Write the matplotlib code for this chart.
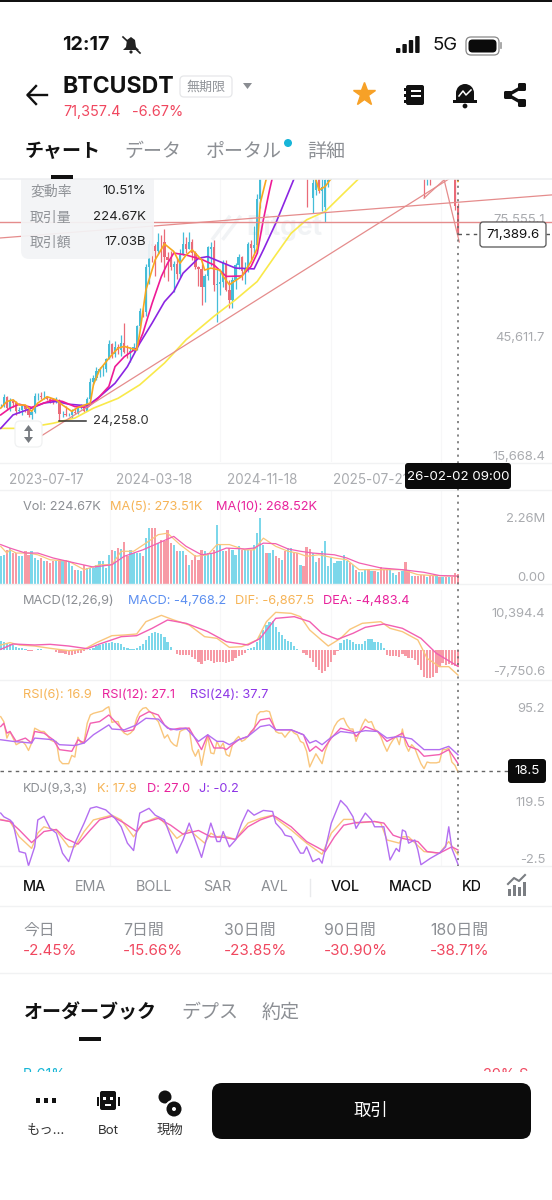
import numpy as np
import matplotlib
matplotlib.use("Agg")
import matplotlib.pyplot as plt
from matplotlib.patches import FancyBboxPatch, Rectangle, Circle, Polygon

plt.rcParams['font.family'] = ['Inter', 'Noto Sans CJK JP', 'DejaVu Sans']

# ---------- price data (thousand USDT, weekly candles) ----------
closes = [28.3,30.3,27.6,29.2,28.9,26.9,27.1,28.1,27.2,25.9,
 26.5,30.5,30.6,30.3,30.3,29.9,29.3,29.0,29.3,26.1,
 26.1,25.8,25.8,26.5,26.3,27.9,27.9,26.8,29.9,34.0,
 35.0,37.0,37.4,37.4,39.9,43.7,41.3,43.0,42.3,43.9,
 41.8,41.6,42.0,43.0,48.3,52.1,51.7,63.1,68.9,68.4,
 67.2,69.6,69.4,65.7,64.9,63.1,64.0,61.5,66.3,69.0,
 67.7,69.6,66.7,63.2,62.7,58.2,60.8,68.2,68.3,58.7,
 58.9,59.3,64.2,57.3,54.8,60.0,63.6,65.6,62.1,62.8,
 69.0,67.9,68.7,80.4,90.6,97.9,97.2,101.1,104.4,95.2,
 94.2,98.4,94.5,101.3,102.6,100.6,96.5,96.5,96.3,94.3,
 86.5,84.3,86.1,82.4,83.5,85.2,85.2,93.7,94.3,103.2,
 104.1,106.5,109.0,105.6,105.7,105.5,108.3,109.2,119.1,117.9,
 119.4,113.3,119.3,117.4,113.5,108.2,111.1,115.3,115.3,112.2,
 123.5,115.0,108.0,114.6,110.5,104.7,94.2,86.6,90.9,90.2,
 88.1,88.6,87.5,91.5,90.5,93.6,86.6,78.6,71.39]
opens = [28.2,28.3,30.3,27.6,29.2,28.9,26.9,27.1,28.1,27.2,
 25.9,26.5,30.5,30.6,30.3,30.3,29.9,29.3,29.0,29.3,
 26.1,26.1,25.8,25.8,26.5,26.3,27.9,27.9,26.8,29.9,
 34.0,35.0,37.0,37.4,37.4,39.9,43.7,41.3,43.0,42.3,
 43.9,41.8,41.6,42.0,43.0,48.3,52.1,51.7,63.1,68.9,
 68.4,67.2,69.6,69.4,65.7,64.9,63.1,64.0,61.5,66.3,
 69.0,67.7,69.6,66.7,63.2,62.7,58.2,60.8,67.6,68.3,
 58.7,58.9,59.3,64.2,57.3,54.8,60.0,63.6,65.6,62.1,
 62.8,69.0,67.9,68.7,80.4,90.6,97.9,97.2,101.1,104.4,
 95.2,94.2,98.4,94.5,101.3,102.6,100.6,96.5,96.5,96.3,
 94.3,80.7,82.6,86.1,82.4,78.4,84.6,85.2,93.7,94.3,
 103.2,104.1,106.5,109.0,105.6,105.7,105.5,108.3,109.2,119.1,
 117.9,119.4,113.3,119.3,117.4,113.5,108.2,111.1,115.3,115.3,
 112.2,123.5,115.0,108.0,114.6,110.5,104.7,94.2,86.6,90.9,
 90.2,88.1,88.6,87.5,91.5,90.5,93.6,86.6,78.6]
highs = [28.6,31.0,30.5,30.0,29.9,29.3,27.7,28.3,28.4,27.4,
 26.8,31.4,31.4,31.5,31.8,30.4,30.3,30.0,30.2,29.7,
 26.8,28.1,26.4,27.4,27.5,28.0,28.6,28.0,30.3,35.0,
 35.9,37.9,38.0,38.4,40.2,44.7,44.0,44.4,43.8,45.9,
 49.0,43.5,42.9,43.9,48.5,52.9,52.9,64.0,70.0,73.8,
 68.9,71.7,71.3,72.8,66.9,67.2,64.7,65.5,67.7,72.0,
 70.7,72.0,70.2,67.2,63.4,63.9,61.4,68.4,69.4,70.0,
 62.7,61.8,65.0,64.9,59.8,60.6,64.1,66.5,66.0,64.5,
 69.4,70.0,73.6,81.5,93.5,99.6,98.9,104.0,105.2,108.3,
 99.9,99.0,102.7,106.0,109.6,106.4,102.5,98.8,99.5,96.5,
 95.0,85.3,87.5,88.8,88.5,86.1,86.5,95.8,97.9,104.0,
 105.8,107.0,110.5,110.5,110.5,108.9,108.5,110.5,123.2,120.0,
 120.5,120.0,119.3,124.5,117.5,113.5,113.4,116.8,117.9,113.3,
 126.2,125.0,116.0,116.0,116.4,111.0,107.5,94.0,93.0,94.2,
 94.6,90.4,90.5,94.8,94.8,97.9,93.6,90.6,79.3]
lows = [27.7,27.8,27.1,26.9,27.7,25.8,26.4,25.9,26.5,25.3,
 24.8,26.3,29.5,29.7,29.9,29.5,28.9,28.6,28.7,24.258,
 25.3,25.4,25.4,24.9,26.0,26.0,27.2,26.5,26.8,29.7,
 33.4,34.5,35.5,35.6,36.7,39.9,40.2,40.5,41.3,40.7,
 41.5,40.3,39.1,41.8,42.3,47.7,50.6,50.9,59.0,64.5,
 60.8,66.4,64.5,60.7,59.6,62.4,56.8,60.2,60.7,66.3,
 66.6,67.6,65.0,62.6,58.4,53.5,54.3,60.0,63.4,57.1,
 49.2,56.1,58.1,57.2,52.8,52.8,57.5,62.7,59.8,58.9,
 62.0,65.0,66.8,66.8,78.0,89.4,90.8,90.5,94.2,92.1,
 92.5,91.5,89.2,89.1,100.1,97.8,91.2,94.0,93.4,78.4,
 86.0,76.7,81.4,81.8,77.3,74.6,83.5,86.0,92.0,94.0,
 100.0,102.0,106.0,100.0,100.4,98.2,105.0,105.0,107.5,115.0,
 114.0,112.0,111.0,113.0,111.5,107.5,107.3,110.5,114.0,108.6,
 109.0,102.0,103.0,106.0,106.3,98.9,93.5,80.5,84.0,84.0,
 87.6,85.6,86.4,86.7,89.3,90.0,86.0,77.5,71.2]

ma5_i = [0,2,4,6,8,10,12,15,18,20,23,25,29,30,32,35,38,40,44,45,47,50,53,56,58,60,62,65,66,68,71,72,74,78,81,83,84,86,95,101,103,105,107,120,130,140,146,147,148]
ma5_v = [27.5,29.2,29.6,28.3,28.3,26.7,28.8,30.4,29.6,28.3,26.7,27.7,28.8,33.4,37.2,40.1,42.7,43.1,42.2,46.4,57.4,65.0,69.0,67.1,64.1,66.2,67.5,65.0,62.4,62.9,62.4,60.8,58.7,60.8,64.5,67.9,79.3,85.6,97,88,82.6,83.5,85.6,105,115,95,90,88,84.8]
ma10_i = [0,3,6,10,14,17,20,24,28,31,35,37,40,44,46,49,52,54,56,60,65,69,73,78,81,83,85,87,88,100,120,140,148]
ma10_v = [25.8,27.5,28.5,27.7,28.8,29.6,29.2,27.9,27.7,29.6,33.0,38.0,40.5,42.7,46.4,54.0,60.8,64.1,66.7,66.2,65.1,63.7,60.8,60.9,63.3,66.6,75.1,82.6,86.0,96,105,100,92]
ma20_i = [0,4,10,14,18,22,28,32,37,41,45,49,53,56,59,64,67,71,76,82,85,89,95,110,130,148]
ma20_v = [22.4,25.8,27.5,28.8,29.2,28.5,28.1,30.4,33.8,38.0,43.9,49.0,54.4,57.0,61.6,65.4,65.8,64.5,62.9,62.7,67.5,74.2,85.6,105,108,98]
ma60_i = [0,5,11,17,24,30,38,45,53,60,69,76,83,89,94,99,105,111,116,130,148]
ma60_v = [22.4,22.4,22.9,23.7,25.0,27.5,30.0,33.4,38.9,44.8,50.7,54.9,59.5,66.2,71.7,75.1,77.2,81.8,85.6,100,98]

level_idx = [-0.3, 178.5]
level_px = [74.5, 74.5]
channel_px = [70.5, 81.4]
trend_idx = [9.5, 146]
trend_px = [18.7, 85.9]
spike_idx = [137, 143.5, 148.4]
spike_px = [80.6, 85.2, 69.5]

price_ticks = [75.5551, 45.6117, 15.6684]
price_tick_labels = ['75,555.1', '45,611.7', '15,668.4']
date_ticks = [14.7, 49.6, 84.6, 119.6]
date_labels = ['2023-07-17', '2024-03-18', '2024-11-18', '2025-07-21']

# ---------- volume (million) ----------
volumes = [.95,.98,1.17,1.23,1.06,1.06,.95,.95,1.12,1.00,
 1.12,.89,.83,.89,.78,.78,.72,.78,.78,.83,
 .78,.83,.78,.60,.49,.49,.43,.66,.55,.55,
 .55,.66,.78,.78,.55,1.00,1.17,1.12,1.23,1.20,
 1.43,.95,1.17,1.06,1.06,1.06,.95,1.57,1.92,1.92,
 1.92,1.40,1.52,1.46,1.84,1.40,1.35,1.12,1.12,1.12,
 1.00,.66,.83,1.00,.83,1.17,1.12,1.06,1.06,1.17,
 2.03,1.35,1.12,1.12,1.23,1.17,1.00,1.29,1.17,1.17,
 1.17,1.17,1.35,1.74,2.26,1.35,1.06,1.06,1.17,
 .95,.89,.83,1.12,1.23,1.23,1.06,1.06,.66,.60,
 1.27,1.20,1.06,.74,.89,1.12,1.46,.63,.89,.72,
 .78,.78,1.00,.78,.72,.64,.49,.41,.41,.49,
 .51,.43,.43,.40,.58,.49,.49,.47,.38,.32,
 .40,.43,.74,.49,.26,.26,.29,.31,.32,.24,
 .29,.26,.30,.24,.24,.24,.24,.24,.38,.33]
vma5_i = [0,2,3,5,9,12,16,22,27,32,36,39,43,47,51,54,58,63,67,70,74,79,82,85,89,93,96,99,103,108,112,116,121,126,130,135,140,148]
vma5_v = [1.29,1.06,1.17,1.06,1.06,1.00,.83,.78,.49,.66,.66,1.12,1.12,1.40,1.69,1.74,1.35,.95,1.00,1.35,1.35,1.17,1.17,1.57,1.29,1.12,1.06,.95,1.00,.89,.83,.49,.49,.49,.49,.32,.29,.27]
vma10_i = [0,3,8,12,17,24,30,36,40,46,51,56,60,65,69,73,79,82,85,89,93,97,101,108,112,116,123,130,137,142,148]
vma10_v = [1.35,1.23,1.06,1.06,.89,.72,.58,.66,.95,1.17,1.40,1.63,1.29,1.00,1.06,1.23,1.20,1.23,1.40,1.38,1.20,1.12,1.06,1.00,.89,.72,.55,.49,.40,.29,.27]

# ---------- MACD ----------
macd_hist = [2460,2280,2010,1640,1370,910,640,460,180,-180,
 -270,90,180,180,90,90,-90,-90,-460,-730,
 -910,-1090,-1280,-1280,-1190,-910,-730,-360,-90,270,
 640,1000,1280,1550,1820,2010,2280,2010,1820,1550,
 910,640,360,180,640,1090,1550,2740,3830,4740,
 4830,4740,4380,3470,2280,910,-90,-1190,-1280,-1280,
 -1370,-1460,-1820,-2550,-3370,-3920,-2920,-2740,-3100,-3470,
 -3370,-3370,-3190,-3470,-3280,-2920,-2280,-1550,-1370,-730,
 180,550,910,2280,4100,5470,6840,7750,8030,
 6380,5020,4100,3010,2550,2280,1090,270,-90,-730,
 -1370,-2280,-3370,-4560,-5470,-6200,-5650,-4560,-3190,-1370,
 -270,1820,2740,2920,2740,2280,1640,1550,1640,2550,
 2920,3010,2280,2280,1820,460,-1370,-1550,-1640,-1550,
 -2010,-1090,-1640,-2280,-2280,-2740,-4100,-5470,-7300,-7750,
 -7750,-7300,-6380,-4560,-3650,-4100,-3920,-4100,-4380,-4768]
dif_i = [0,3,6,11,16,22,27,31,36,40,44,47,52,56,61,66,70,74,78,83,86,89,94,97,100,106,110,113,117,123,126,130,135,138,142,145,148]
dif_v = [1370,2010,1370,1090,460,-180,180,2010,3920,4100,4380,7750,9480,8210,6840,3650,3190,730,910,2740,7750,10300,10030,9120,5470,1090,3190,5650,7300,7750,5930,5020,2740,-2280,-4560,-4560,-6867]
dea_i = [0,4,11,16,22,28,32,39,44,49,54,60,67,73,80,84,89,95,100,104,109,114,118,124,130,136,141,148]
dea_v = [180,1640,1370,1550,1090,360,1640,3650,3920,5930,8210,7300,5020,2280,1370,3190,8660,9120,7750,4560,2920,4560,6200,7110,5930,3190,-910,-4483]

# ---------- RSI ----------
rsi6 = [84,78,58,66,58,50,52,54,50,43,
 52,70,68,66,66,62,56,54,54,31,
 27,27,27,37,35,59,52,54,76,86,
 88,89,90,91,94,96,77,78,78,68,
 64,62,64,68,82,90,94,95,91,88,
 82,78,68,58,62,54,50,48,66,68,
 69,70,44,36,44,25,44,60,40,39,
 54,46,52,38,36,50,56,60,54,56,
 60,66,68,86,90,90,91,90,78,66,
 64,64,59,64,68,64,62,54,52,42,
 23,31,39,33,27,42,52,62,72,78,
 81,82,74,69,69,54,64,74,81,77,
 78,69,66,60,50,42,50,56,60,50,
 69,50,42,50,46,36,27,21,29,28,
 28,28,29,44,44,46,29,25,16.9]
rsi12_i = [0,1,2,3,5,8,10,11,14,17,19,23,25,27,29,32,35,37,40,43,45,48,51,53,55,58,61,65,67,69,72,73,77,80,84,87,89,94,98,100,102,104,107,110,114,115,118,122,125,128,130,132,135,137,142,145,148]
rsi12_v = [72,76,64,66,54,58,52,66,64,56,44,42,56,52,76,78,86,78,66,68,84,90,86,74,68,70,70,44,62,46,46,44,56,60,80,82,68,68,62,42,48,42,58,70,66,60,72,66,54,60,64,48,44,36,38,44,27.1]
rsi24_i = [0,4,10,11,17,19,24,27,30,35,36,40,44,47,51,54,57,60,64,67,70,72,74,77,80,84,87,89,94,98,100,102,104,107,110,114,118,122,125,129,133,137,142,145,148]
rsi24_v = [56,54,52,58,56,50,49,52,62,74,69,68,74,82,81,70,68,70,54,62,54,54,50,56,60,72,74,68,68,62,52,55,50,59,66,64,67,66,58,60,57,44,44,48,37.7]

# ---------- KDJ ----------
k_i = [0,3,6,10,12,14,18,22,24,27,30,36,39,43,46,51,53,57,61,66,68,70,72,76,80,84,88,89,94,99,104,107,111,114,115,121,123,125,129,130,132,137,142,145,148]
k_v = [85,81,52,30,59,71,64,33,33,62,84,93,84,52,78,90,78,49,65,40,59,52,54,47,78,87,93,87,65,40,19,59,85,85,78,81,78,46,40,52,52,24,21,43,17.9]
d_i = [0,3,6,10,14,18,21,25,29,32,36,40,44,46,51,55,59,64,68,72,76,80,84,88,89,94,99,105,108,111,115,121,124,127,130,135,138,142,146,148]
d_v = [84,81,65,41,62,66,49,38,65,84,91,78,62,78,87,74,57,64,52,51,47,71,84,92,90,71,43,24,52,74,79,81,78,55,49,43,24,21,33,27]
j_i = [0,1,3,4,6,8,9,11,12,14,16,18,20,22,24,27,29,31,34,37,39,41,43,45,48,50,53,57,59,61,65,68,70,71,72,74,76,78,80,82,85,88,89,91,92,94,97,98,99,101,103,104,107,110,112,114,115,118,120,121,124,126,128,129,130,131,132,134,135,136,139,142,144,145,146,148]
j_v = [97,90,84,78,24,21,-3,33,84,91,68,59,21,5,40,78,106,109,103,87,71,40,26,97,106,93,84,21,46,78,13,78,43,43,62,33,46,78,103,93,102,100,78,65,55,52,21,21,33,5,11,2,78,121,109,90,68,97,84,71,71,8,30,24,65,62,40,46,27,-1,11,21,33,71,30,-0.2]

# ---------- colours ----------
UP, DOWN = '#45bdd8', '#ea6b78'
VUP, VDOWN = '#7cd7ea', '#f79aa5'
ORANGE_M, PINK_M, PURPLE_M, YELLOW_M = '#f7a81e', '#ee1a96', '#8b25e2', '#f9e94a'
ORANGE, PINK, PURPLE = '#f9c67c', '#f25fb2', '#b36ef1'
T_ORANGE, T_PINK, T_PURPLE, T_BLUE = '#f6b457', '#e8229c', '#8d35e6', '#5c8ff0'
GRAY, AXIS_GRAY, RED = '#8c8f94', '#a9abaf', '#f0475f'
TREND = '#e58c8c'
FAINT = '#f1f3f5'

W, H = 552, 1200
fig = plt.figure(figsize=(W / 100, H / 100), dpi=100, facecolor='white')
XLIM = (-0.7 / 3.09, (W - 0.7) / 3.09)
x = np.arange(len(closes))


def panel(top, bottom, ylim):
    ax = fig.add_axes([0, 1 - bottom / H, 1, (bottom - top) / H])
    ax.set_xlim(*XLIM)
    ax.set_ylim(*ylim)
    ax.patch.set_alpha(0)
    for s in ax.spines.values():
        s.set_visible(False)
    ax.set_xticks([])
    for gx in (35.4, 71, 107, 142.5):
        ax.axvline(gx, color='#f7f7f8', lw=0.8, zorder=0)
    return ax


def right_ticks(ax, ticks, labels, bottom_last=False):
    ax.set_yticks(ticks, labels)
    ax.tick_params(axis='y', left=False, right=False, labelleft=False, labelright=True, length=0,
                   pad=-5, labelsize=9.4, labelcolor=AXIS_GRAY)
    mt = ax.yaxis.get_major_ticks()
    for n, t_ in enumerate(mt):
        t_.label2.set_ha('right')
        if bottom_last and n == len(mt) - 1:
            t_.label2.set_va('bottom')


def px_ylim(top, bottom, y_ref, v_ref, per_px):
    return (v_ref - (bottom - y_ref) * per_px, v_ref + (y_ref - top) * per_px)


# ---------- main price panel ----------
ax = panel(179, 462, px_ylim(179, 462, 455, 15.6684, 0.25269))
up = [c >= o for c, o in zip(closes, opens)]
cols = [UP if u else DOWN for u in up]
ax.vlines(x, lows, highs, colors=cols, lw=0.9, zorder=2)
ax.bar(x, np.abs(np.array(closes) - np.array(opens)), bottom=np.minimum(closes, opens),
       width=0.74, color=cols, zorder=2)
ax.plot(ma60_i, ma60_v, color=YELLOW_M, lw=1.2, zorder=3)
ax.plot(ma20_i, ma20_v, color=PURPLE_M, lw=1.2, zorder=3)
ax.plot(ma10_i, ma10_v, color=PINK_M, lw=1.2, zorder=3)
ax.plot(ma5_i, ma5_v, color=ORANGE_M, lw=1.2, zorder=3)
ax.plot(level_idx, level_px, color=TREND, lw=1.0, zorder=4)
ax.plot(level_idx, channel_px, color=TREND, lw=0.9, zorder=4)
ax.plot(trend_idx, trend_px, color=TREND, lw=0.9, zorder=4)
ax.plot(spike_idx, spike_px, color=TREND, lw=0.9, zorder=4)
ax.plot([19, 27.5], [24.258, 24.258], color='#333333', lw=1.1, zorder=4)
ax.text(30, 24.258, '24,258.0', fontsize=9.4, color='#333333', va='center')
ax.text(0.447, 0.827, 'Bitget', transform=ax.transAxes, fontsize=19,
        fontweight='bold', color=FAINT, va='center', zorder=0)
ax.plot([0.386, 0.415], [0.79, 0.865], transform=ax.transAxes, color=FAINT, lw=2.5, zorder=0)
ax.plot([0.405, 0.434], [0.79, 0.865], transform=ax.transAxes, color=FAINT, lw=2.5, zorder=0)
right_ticks(ax, price_ticks, price_tick_labels)
ax.set_xticks(date_ticks, date_labels)
ax.tick_params(axis='x', length=0, pad=8, labelsize=9.7, labelcolor=AXIS_GRAY)

# ---------- volume panel ----------
ax = panel(490, 584, (0, (584 - 490) * 0.03424))
ax.bar(x, volumes, width=0.72, color=[VUP if u else VDOWN for u in up], zorder=2)
ax.plot(vma5_i, vma5_v, color=ORANGE, lw=0.9, zorder=3)
ax.plot(vma10_i, vma10_v, color=PINK, lw=0.9, zorder=3)
right_ticks(ax, [2.26, 0.0], ['2.26M', '0.00'], bottom_last=True)

# ---------- MACD panel ----------
ax = panel(590, 680, px_ylim(590, 680, 650, 0, 273.6))
ax.bar(x, macd_hist, width=0.72, color=[VUP if v >= 0 else VDOWN for v in macd_hist], zorder=2)
ax.plot(dif_i, dif_v, color=ORANGE, lw=1.0, zorder=3)
ax.plot(dea_i, dea_v, color=PINK, lw=1.0, zorder=3)
right_ticks(ax, [10394.4, -7750.6], ['10,394.4', '-7,750.6'], bottom_last=True)

# ---------- RSI panel ----------
ax = panel(680, 774, (128.4 - 1.212 * 94, 128.4))
ax.plot(x, rsi6, color=ORANGE, lw=1.0, zorder=3)
ax.plot(rsi12_i, rsi12_v, color=PINK, lw=1.0, zorder=3)
ax.plot(rsi24_i, rsi24_v, color=PURPLE, lw=1.0, zorder=3)
right_ticks(ax, [95.2], ['95.2'])

# ---------- KDJ panel ----------
ax = panel(774, 866, (349.3 - 1.896 * 186, 349.3 - 1.896 * 94))
ax.plot(k_i, k_v, color=ORANGE, lw=1.0, zorder=3)
ax.plot(d_i, d_v, color=PINK, lw=1.0, zorder=3)
ax.plot(j_i, j_v, color=PURPLE, lw=1.0, zorder=3)
right_ticks(ax, [119.5, -2.5], ['119.5', '-2.5'], bottom_last=True)

# ---------- overlay for the app interface (pixel coordinates) ----------
ov = fig.add_axes([0, 0, 1, 1], zorder=10)
ov.set_xlim(0, W)
ov.set_ylim(H, 0)
ov.axis('off')
ov.patch.set_alpha(0)


def t(px, py, s, size, color='#111111', weight='normal', ha='left', va='center', z=6):
    # CJK glyph boxes sit a little high when centred, so nudge them down
    if any(ord(ch) > 0x2E80 for ch in s):
        py += 2
    ov.text(px, py, s, fontsize=size, color=color, fontweight=weight, ha=ha, va=va, zorder=z)


def rrect(x0, y0, x1, y1, r, fc, ec='none', lw=0, z=3, alpha=None):
    ov.add_patch(FancyBboxPatch((x0 + r, y0 + r), x1 - x0 - 2 * r, y1 - y0 - 2 * r,
                                boxstyle=f'round,pad={r},rounding_size={r}', fc=fc, ec=ec, lw=lw,
                                zorder=z, alpha=alpha))


def rect(x0, y0, x1, y1, fc, z=3):
    ov.add_patch(Rectangle((x0, y0), x1 - x0, y1 - y0, fc=fc, ec='none', zorder=z))


def hline(y, x0=0, x1=W, c='#f1f2f3', lw=1.0):
    ov.plot([x0, x1], [y, y], color=c, lw=lw, zorder=2)


# info box and header backdrop
rrect(21, 150, 154, 259, 8, '#f3f4f6', z=2, alpha=0.93)
rect(0, 0, W, 179, 'white', z=3)
rect(0, 0, W, 2, '#111111', z=4)
hline(179, c='#eeeff1', lw=1.2)
ov.lines[-1].set_zorder(4)
for yy, a, b in ((191, '変動率', '10.51%'), (217, '取引量', '224.67K'), (242, '取引額', '17.03B')):
    t(30, yy - 1, a, 10, '#8f9297')
    t(146, yy, b, 9.5, '#222222', ha='right')

# price-scale toggle button
rrect(15, 421, 42, 447, 5, 'white', ec='#f0f1f2', lw=0.9, z=5)
ov.plot([28.5, 28.5], [428, 440], color='#777b80', lw=1.3, zorder=6)
ov.add_patch(Polygon([(28.5, 425), (24, 431), (33, 431)], fc='#777b80', zorder=6))
ov.add_patch(Polygon([(28.5, 443), (24, 437), (33, 437)], fc='#777b80', zorder=6))

# separators
hline(463); hline(490); hline(584); hline(680); hline(866); hline(906); hline(973)

# crosshair
ov.plot([458, 458], [179, 866], color='#666666', lw=1.1, dashes=(1.4, 3), zorder=2.5)
ov.plot([0, 510], [771, 771], color='#666666', lw=1.0, dashes=(2.5, 3), zorder=2.5)
ov.plot([458, 482], [234, 234], color='#555555', lw=1.0, dashes=(2.5, 3), zorder=2.5)
ov.plot([546, 552], [234, 234], color='#555555', lw=1.0, dashes=(2.5, 3), zorder=2.5)
rrect(480, 222, 546, 247, 3, 'white', ec='#555555', lw=0.9, z=3)
t(513, 234.5, '71,389.6', 9.6, '#111111', ha='center')
rrect(508, 759, 546, 783, 3, '#0b0b0b', z=3)
t(527, 771, '18.5', 9.6, 'white', ha='center')
rrect(405, 463, 511, 489, 3, '#0b0b0b', z=3)
t(458, 476.5, '26-02-02 09:00', 9.6, 'white', ha='center')

# panel captions
for px, s, c in ((23, 'Vol: 224.67K', GRAY), (110, 'MA(5): 273.51K', T_ORANGE), (216, 'MA(10): 268.52K', T_PINK)):
    t(px, 506.5, s, 9.2, c)
for px, s, c in ((23, 'MACD(12,26,9)', GRAY), (128, 'MACD: -4,768.2', T_BLUE),
                 (235, 'DIF: -6,867.5', T_ORANGE), (323, 'DEA: -4,483.4', T_PINK)):
    t(px, 600.5, s, 9.2, c)
for px, s, c in ((23, 'RSI(6): 16.9', T_ORANGE), (102, 'RSI(12): 27.1', T_PINK), (190, 'RSI(24): 37.7', T_PURPLE)):
    t(px, 694.5, s, 9.2, c)
for px, s, c in ((23, 'KDJ(9,3,3)', GRAY), (97, 'K: 17.9', T_ORANGE), (147, 'D: 27.0', T_PINK), (199, 'J: -0.2', T_PURPLE)):
    t(px, 788.5, s, 9.2, c)

# status bar
t(62, 45, '12:17', 14.2, '#111111', 'bold')
ov.add_patch(Polygon([(131, 37), (135, 40), (136, 47), (139, 50), (123, 50), (126, 47), (127, 40)], fc='#222222', zorder=6))
ov.add_patch(Circle((131, 52), 1.6, fc='#222222', zorder=6))
ov.plot([123, 140], [37, 53], color='#222222', lw=1.2, zorder=7)
for i_, (h_) in enumerate((5, 9, 13, 17)):
    rrect(396 + i_ * 6.4, 53 - h_, 400.4 + i_ * 6.4, 53, 1, '#111111', z=6)
t(432, 45, '5G', 13.4, '#111111')
rrect(466, 37, 499, 55, 5, 'white', ec='#888888', lw=0.9, z=5)
rrect(468.5, 39.5, 496.5, 52.5, 4, '#0b0b0b', z=6)
ov.plot([501, 501], [43, 48], color='#999999', lw=1.2, zorder=6)

# title row
ov.plot([47, 28], [95, 95], color='#111111', lw=1.7, zorder=6)
ov.plot([36, 27.5, 36], [86, 95, 104], color='#111111', lw=1.7, zorder=6)
t(62, 87, 'BTCUSDT', 16.6, '#111111', 'bold')
rrect(180, 76, 232, 97, 4, 'white', ec='#e6e7e9', lw=0.9, z=5)
t(206, 85, '無期限', 9.4, '#909398', ha='center')
ov.add_patch(Polygon([(243, 83), (252, 83), (247.5, 89)], fc='#8a8d92', zorder=6))
t(63, 112, '71,357.4', 10.4, RED)
t(132, 112, '-6.67%', 10.4, RED)
ov.plot([364], [94], marker='*', ms=17, color='#f7a127', mec='#f7a127', zorder=6)
# notebook
rrect(406, 85, 424, 105, 2, '#111111', z=6)
rect(403.5, 88, 408, 90.5, '#111111', z=6); rect(403.5, 94, 408, 96.5, '#111111', z=6); rect(403.5, 100, 408, 102.5, '#111111', z=6)
rect(411, 90, 421, 92, 'white', z=7); rect(411, 95, 421, 97, 'white', z=7)
# alert bell
ov.add_patch(Circle((465, 93), 9, fc='#111111', zorder=6))
rect(456, 93, 474, 101, '#111111', z=6)
rect(453, 100, 477, 103, '#111111', z=6)
ov.add_patch(Circle((465, 106), 2.4, fc='#111111', zorder=6))
ov.plot([459, 463, 466, 471], [96, 91, 95, 90], color='white', lw=1.1, zorder=7)
# share
ov.plot([522, 508, 522], [87, 95, 103], color='#111111', lw=2.4, zorder=6)
for cx, cy in ((522, 87), (508, 95), (522, 103)):
    rrect(cx - 4, cy - 4, cx + 4, cy + 4, 1.5, '#111111', z=6)

# tabs
t(24, 150, 'チャート', 13.7, '#111111', 'bold')
t(124, 150, 'データ', 13.7, GRAY)
t(206, 150, 'ポータル', 13.7, GRAY)
ov.add_patch(Circle((288, 143), 4, fc='#17b5d8', zorder=6))
t(307, 150, '詳細', 13.7, GRAY)
rect(51, 175, 73, 179, '#111111', z=6)

# indicator switch row
for px, s, c, w in ((23, 'MA', '#111111', 'medium'), (75, 'EMA', GRAY, 'normal'), (136, 'BOLL', GRAY, 'normal'),
                    (203, 'SAR', GRAY, 'normal'), (261, 'AVL', GRAY, 'normal'), (331, 'VOL', '#111111', 'medium'),
                    (389, 'MACD', '#111111', 'medium'), (462, 'KDJ', '#111111', 'medium')):
    t(px, 887, s, 10.3, c, w)
rect(480, 870, 505, 903, 'white', z=7)
ov.plot([310, 310], [879, 896], color='#e9eaec', lw=1.0, zorder=6)
for bx, bh in ((508, 7), (513, 11), (518, 9), (523, 14)):
    rect(bx, 896 - bh, bx + 3.4, 896, '#7b7e83', z=6)
ov.plot([508, 514, 519, 525], [884, 878, 881, 875], color='#7b7e83', lw=1.5, zorder=6)

# period statistics
periods = ['今日', '7日間', '30日間', '90日間', '180日間']
changes = ['-2.45%', '-15.66%', '-23.85%', '-30.90%', '-38.71%']
for px, a, b in zip((23, 123, 224, 324, 430), periods, changes):
    t(px, 928, a, 11.4, GRAY)
    t(px, 951, b, 10.9, RED)

# order book
t(24, 1011, 'オーダーブック', 13.7, '#111111', 'bold')
t(181, 1011, 'デプス', 13.7, GRAY)
t(262, 1011, '約定', 13.7, GRAY)
rect(79, 1037, 101, 1041, '#111111', z=6)
t(23, 1075, 'B 61%', 10.4, '#18b6d6')
t(528, 1075, '39% S', 10.4, RED, ha='right')
rect(0, 1072, W, H, 'white', z=7)

# bottom bar
for cx in (38, 46, 54):
    rect(cx - 2.4, 1098, cx + 2.4, 1103, '#111111', z=8)
rrect(100, 1091, 116, 1110, 2, '#111111', z=8)
rect(96.5, 1097, 98.5, 1106, '#111111', z=8); rect(117.5, 1097, 119.5, 1106, '#111111', z=8)
rect(103, 1097, 106, 1100, 'white', z=9); rect(110, 1097, 113, 1100, 'white', z=9); rect(105, 1104, 111, 1106, 'white', z=9)
ov.add_patch(Circle((165, 1097), 6.5, fc='#111111', zorder=8))
ov.add_patch(Circle((174, 1109), 8.5, fc='#111111', ec='white', lw=1.4, zorder=9))
ov.add_patch(Circle((174, 1109), 2, fc='white', zorder=10))
t(46, 1129, 'もっ…', 9.6, '#333333', ha='center', z=8)
t(108, 1131, 'Bot', 9.6, '#333333', ha='center', z=8)
t(170, 1129, '現物', 9.6, '#333333', ha='center', z=8)
rrect(212, 1083, 531, 1139, 10, '#0b0b0b', z=8)
t(371, 1109, '取引', 12.5, 'white', ha='center', z=9)

fig.savefig('out.png', dpi=100)
